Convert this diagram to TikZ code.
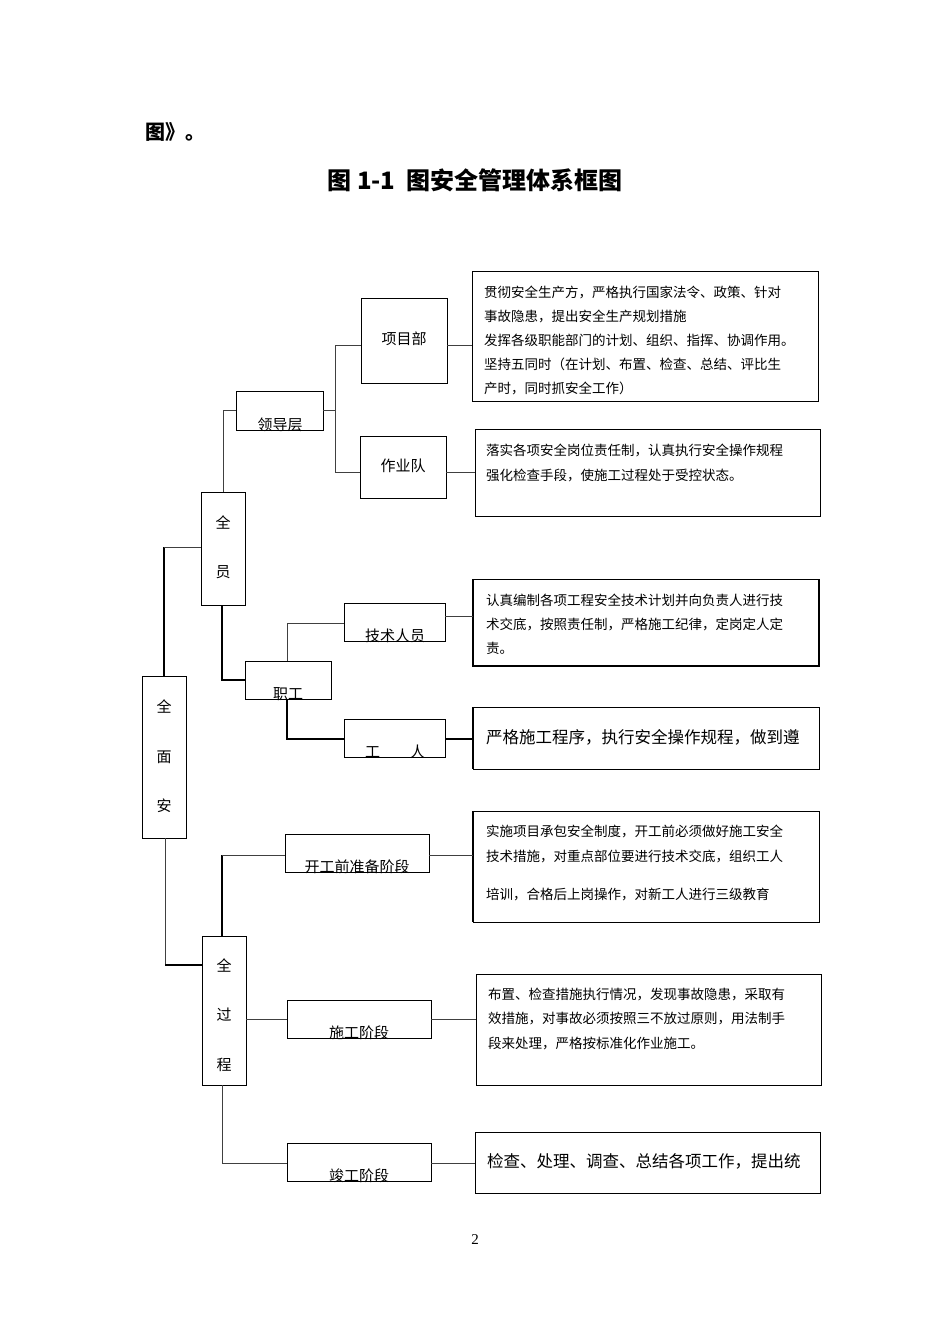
\documentclass[tikz,border=0pt]{standalone}
\usepackage{fontspec}
\setmainfont{Noto Sans CJK SC}
\newfontfamily\serifnum{Liberation Serif}
\begin{document}
\begin{tikzpicture}[x=1pt,y=-1pt,
  bx/.style={draw=black,line width=0.9pt},
  ln/.style={draw=black!75,line width=0.9pt},
  tk/.style={draw=black,line width=1.8pt},
  mt/.style={inner sep=0pt,font=\fontsize{15}{15}\selectfont},
  rt/.style={inner sep=0pt,anchor=west,font=\fontsize{13.5}{14}\selectfont},
  bt/.style={inner sep=0pt,anchor=west,font=\fontsize{16.5}{17}\selectfont}]
\useasboundingbox (0,0) rectangle (950,1344);
\node[anchor=west,inner sep=0pt,font=\fontsize{20}{20}\selectfont\bfseries] (pre) at (145,132) {图》。};
\node[inner sep=0pt,font=\fontsize{24}{24}\selectfont\bfseries] (title) at (475,180) {图 1-1\ \ 图安全管理体系框图};
\node[inner sep=0pt,font=\serifnum\fontsize{15}{15}\selectfont] (pg) at (475,1240) {2};
% middle boxes
\draw[bx] (361,298) rectangle (447,383); \node[mt] (xmb) at (404,339) {项目部};
\draw[bx] (236,391) rectangle (323,430); \node[mt,anchor=south] (ldc) at (280,432) {领导层};
\draw[bx] (360,436) rectangle (446,498); \node[mt] (zyd) at (403,466) {作业队};
\draw[bx] (201,492) rectangle (245,605); \node[mt] (qy1) at (223,522) {全}; \node[mt] (qy2) at (223,572) {员};
\draw[bx] (344,603) rectangle (445,641); \node[mt,anchor=south] (jsry) at (395,643) {技术人员};
\draw[bx] (245,661) rectangle (331,699); \node[mt,anchor=south] (zg) at (288,701) {职工};
\draw[bx] (344,719) rectangle (445,757); \node[mt,anchor=south] (gr) at (395,759) {工\hspace{2em}人};
\draw[bx] (142,676) rectangle (186,838); \node[mt] (qm1) at (164,706) {全}; \node[mt] (qm2) at (164,757) {面}; \node[mt] (qm3) at (164,806) {安};
\draw[bx] (285,834) rectangle (429,872); \node[mt,anchor=south] (kg) at (357,874) {开工前准备阶段};
\draw[bx] (202,936) rectangle (246,1085); \node[mt] (qg1) at (224,965) {全}; \node[mt] (qg2) at (224,1015) {过}; \node[mt] (qg3) at (224,1065) {程};
\draw[bx] (287,1000) rectangle (431,1038); \node[mt,anchor=south] (sg) at (359,1040) {施工阶段};
\draw[bx] (287,1143) rectangle (431,1181); \node[mt,anchor=south] (jg) at (359,1183) {竣工阶段};
% right boxes
\draw[bx] (472,271) rectangle (818,401);
\node[rt] (r1a) at (484,292) {贯彻安全生产方，严格执行国家法令、政策、针对};
\node[rt] (r1b) at (484,316) {事故隐患，提出安全生产规划措施};
\node[rt] (r1c) at (484,340) {发挥各级职能部门的计划、组织、指挥、协调作用。};
\node[rt] (r1d) at (484,364) {坚持五同时（在计划、布置、检查、总结、评比生};
\node[rt] (r1e) at (484,388) {产时，同时抓安全工作）};
\draw[bx] (475,429) rectangle (820,516);
\node[rt] (r2a) at (486,450) {落实各项安全岗位责任制，认真执行安全操作规程};
\node[rt] (r2b) at (486,475) {强化检查手段，使施工过程处于受控状态。};
\draw[bx] (473,579) rectangle (819,666); \draw[tk] (473,579) -- (473,666) -- (819,666) -- (819,579);
\node[rt] (r3a) at (486,600) {认真编制各项工程安全技术计划并向负责人进行技};
\node[rt] (r3b) at (486,624) {术交底，按照责任制，严格施工纪律，定岗定人定};
\node[rt] (r3c) at (486,648) {责。};
\draw[bx] (473,707) rectangle (819,769); \draw[tk] (473,707) -- (473,769);
\node[bt] (r4a) at (486,737) {严格施工程序，执行安全操作规程，做到遵};
\draw[bx] (473,811) rectangle (819,922); \draw[tk] (473,811) -- (473,922);
\node[rt] (r5a) at (486,831) {实施项目承包安全制度，开工前必须做好施工安全};
\node[rt] (r5b) at (486,856) {技术措施，对重点部位要进行技术交底，组织工人};
\node[rt] (r5c) at (486,894) {培训，合格后上岗操作，对新工人进行三级教育};
\draw[bx] (476,974) rectangle (821,1085);
\node[rt] (r6a) at (488,994) {布置、检查措施执行情况，发现事故隐患，采取有};
\node[rt] (r6b) at (488,1019) {效措施，对事故必须按照三不放过原则，用法制手};
\node[rt] (r6c) at (488,1043) {段来处理，严格按标准化作业施工。};
\draw[bx] (475,1132) rectangle (820,1193);
\node[bt] (r7a) at (487,1161) {检查、处理、调查、总结各项工作，提出统};
% connectors
\draw[ln] (323,410) -- (335,410);
\draw[ln] (361,345) -- (335,345) -- (335,472) -- (360,472);
\draw[ln] (223,492) -- (223,410) -- (236,410);
\draw[tk] (222,605) -- (222,680) -- (245,680);
\draw[ln] (287,661) -- (287,623) -- (344,623);
\draw[tk] (287,699) -- (287,739) -- (344,739);
\draw[tk] (164,676) -- (164,547); \draw[ln] (164,547) -- (201,547);
\draw[ln] (165,838) -- (165,965); \draw[tk] (165,965) -- (202,965);
\draw[tk] (222,936) -- (222,855); \draw[ln] (222,855) -- (285,855);
\draw[ln] (246,1019) -- (287,1019);
\draw[ln] (222,1085) -- (222,1163) -- (287,1163);
\draw[ln] (447,345) -- (472,345);
\draw[ln] (446,472) -- (475,472);
\draw[ln] (445,616) -- (473,616);
\draw[tk] (445,739) -- (473,739);
\draw[ln] (429,855) -- (473,855);
\draw[ln] (431,1019) -- (476,1019);
\draw[ln] (431,1163) -- (475,1163);
\end{tikzpicture}
\end{document}
